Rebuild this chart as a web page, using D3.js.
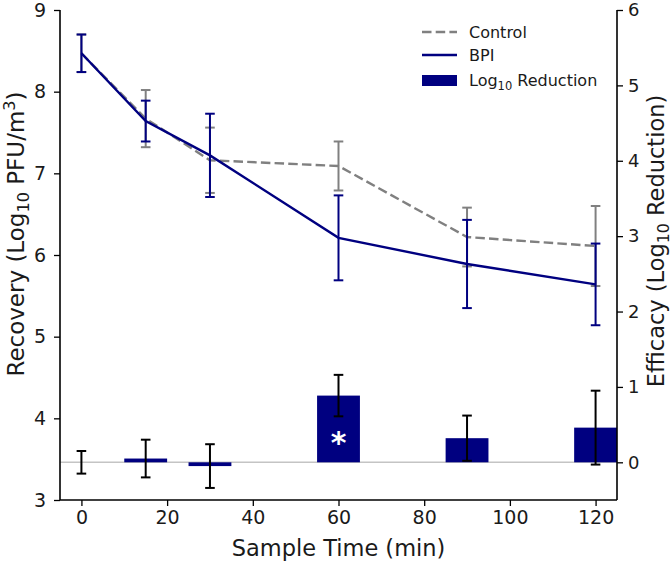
<!DOCTYPE html>
<html><head><meta charset="utf-8">
<script src="https://cdnjs.cloudflare.com/ajax/libs/d3/7.8.5/d3.min.js"></script>
<style>body{margin:0;background:#fff}svg{display:block;font-family:"DejaVu Sans",sans-serif}</style>
</head><body>
<script>
const times = [0, 15, 30, 60, 90, 120];
const controlMean = [8.47, 7.67, 7.16, 7.09, 6.22, 6.11];
const controlErr = [0.23, 0.35, 0.40, 0.30, 0.36, 0.49];
const bpiMean = [8.47, 7.64, 7.22, 6.21, 5.89, 5.64];
const bpiErr = [0.23, 0.25, 0.51, 0.52, 0.54, 0.50];
const reduction = [0.0, 0.05, -0.05, 0.885, 0.32, 0.46];
const reductionErr = [0.15, 0.25, 0.29, 0.275, 0.30, 0.49];
const significant = [false, false, false, true, false, false];
const xTicks = [0, 20, 40, 60, 80, 100, 120];
const yLeftTicks = [3, 4, 5, 6, 7, 8, 9];
const yRightTicks = [0, 1, 2, 3, 4, 5, 6];
const barWidth = 10;

const W = 672, H = 563;
const L = 60, R = 617, T = 10, B = 500;
const navy = "#000080", gray = "#808080";

const svg = d3.select("body").append("svg").attr("width", W).attr("height", H);
const x = d3.scaleLinear().domain([-5, 125]).range([L, R]);
const yL = d3.scaleLinear().domain([3, 9]).range([B, T]);
const yR = d3.scaleLinear().domain([-0.5, 6]).range([B, T]);

// zero line for reduction
svg.append("line").attr("x1", L).attr("x2", R).attr("y1", yR(0)).attr("y2", yR(0))
  .attr("stroke", "#c4c4c4").attr("stroke-width", 1.5);

// bars
const bars = times.map((t, i) => ({t, v: reduction[i], e: reductionErr[i], s: significant[i]}));
svg.selectAll("rect.bar").data(bars).enter().append("rect").attr("class", "bar")
  .attr("x", d => x(d.t - barWidth / 2)).attr("width", d => x(d.t + barWidth / 2) - x(d.t - barWidth / 2))
  .attr("y", d => Math.min(yR(d.v), yR(0))).attr("height", d => Math.abs(yR(d.v) - yR(0)))
  .attr("fill", navy);

function errorBars(data, yScale, color, cap, sw) {
  const g = svg.append("g").attr("stroke", color).attr("stroke-width", sw).attr("fill", "none");
  data.forEach(d => {
    const cx = x(d.t), y1 = yScale(d.v + d.e), y2 = yScale(d.v - d.e);
    g.append("line").attr("x1", cx).attr("x2", cx).attr("y1", y1).attr("y2", y2);
    g.append("line").attr("x1", cx - cap).attr("x2", cx + cap).attr("y1", y1).attr("y2", y1);
    g.append("line").attr("x1", cx - cap).attr("x2", cx + cap).attr("y1", y2).attr("y2", y2);
  });
}
errorBars(bars, yR, "#000", 4.8, 2);

// asterisk
bars.filter(d => d.s).forEach(d => {
  svg.append("text").attr("x", x(d.t)).attr("y", yR(d.v / 2) + 24)
    .attr("text-anchor", "middle").attr("fill", "#fff").attr("font-size", 30).attr("font-weight", "bold").text("*");
});

// lines
const ctrl = times.map((t, i) => ({t, v: controlMean[i], e: controlErr[i]}));
const bpi = times.map((t, i) => ({t, v: bpiMean[i], e: bpiErr[i]}));
const line = d3.line().x(d => x(d.t)).y(d => yL(d.v));
errorBars(ctrl, yL, gray, 4.8, 2);
svg.append("path").datum(ctrl).attr("d", line).attr("fill", "none").attr("stroke", gray)
  .attr("stroke-width", 2.4).attr("stroke-dasharray", "9.5,4.2");
errorBars(bpi, yL, navy, 4.8, 2);
svg.append("path").datum(bpi).attr("d", line).attr("fill", "none").attr("stroke", navy)
  .attr("stroke-width", 2.4);

// axes
const fs = 19;
const gx = svg.append("g").attr("transform", `translate(0,${B})`)
  .call(d3.axisBottom(x).tickValues(xTicks).tickSize(6).tickPadding(5).tickFormat(d3.format("d")));
const gl = svg.append("g").attr("transform", `translate(${L},0)`)
  .call(d3.axisLeft(yL).tickValues(yLeftTicks).tickSize(6).tickPadding(8).tickFormat(d3.format("d")));
const gr = svg.append("g").attr("transform", `translate(${R},0)`)
  .call(d3.axisRight(yR).tickValues(yRightTicks).tickSize(6).tickPadding(5).tickFormat(d3.format("d")));
[gx, gl, gr].forEach(g => {
  g.select(".domain").remove();
  g.selectAll("line").attr("stroke", "#000").attr("stroke-width", 1.3);
  g.selectAll("text").attr("font-size", fs).attr("font-family", "DejaVu Sans").attr("fill", "#1a1a1a");
});
gr.selectAll("text").attr("font-size", 18);
// spines
svg.append("line").attr("x1", L).attr("x2", L).attr("y1", T).attr("y2", B).attr("stroke", "#000").attr("stroke-width", 1.6);
svg.append("line").attr("x1", R).attr("x2", R).attr("y1", T).attr("y2", B).attr("stroke", "#000").attr("stroke-width", 1.6);
svg.append("line").attr("x1", L).attr("x2", R).attr("y1", B).attr("y2", B).attr("stroke", "#000").attr("stroke-width", 1.6);

// axis labels
const lfs = 22.5;
svg.append("text").attr("x", (L + R) / 2).attr("y", 556).attr("text-anchor", "middle")
  .attr("font-size", lfs).attr("fill", "#1a1a1a").text("Sample Time (min)");

const yl = svg.append("text").attr("transform", `translate(24,${234}) rotate(-90)`).attr("text-anchor", "middle")
  .attr("font-size", 23).attr("fill", "#1a1a1a");
yl.append("tspan").text("Recovery (Log");
yl.append("tspan").attr("font-size", 23 * 0.7).attr("dy", 5).text("10");
yl.append("tspan").attr("dy", -5).text(" PFU/m");
yl.append("tspan").attr("font-size", 23 * 0.7).attr("dy", -9).text("3");
yl.append("tspan").attr("dy", 9).text(")");

const yr = svg.append("text").attr("transform", `translate(664,${241}) rotate(-90)`).attr("text-anchor", "middle")
  .attr("font-size", lfs).attr("fill", "#1a1a1a");
yr.append("tspan").text("Efficacy (Log");
yr.append("tspan").attr("font-size", lfs * 0.7).attr("dy", 5).text("10");
yr.append("tspan").attr("dy", -5).text(" Reduction)");

// legend
const lg = svg.append("g");
const hx1 = 422, hx2 = 457, tx = 469;
lg.append("line").attr("x1", hx1).attr("x2", hx2).attr("y1", 32).attr("y2", 32).attr("stroke", gray)
  .attr("stroke-width", 2.4).attr("stroke-dasharray", "9.5,4.2");
lg.append("text").attr("x", tx).attr("y", 38).attr("font-size", 16).attr("fill", "#1a1a1a").text("Control");
lg.append("line").attr("x1", hx1).attr("x2", hx2).attr("y1", 55).attr("y2", 55).attr("stroke", navy).attr("stroke-width", 2.4);
lg.append("text").attr("x", tx).attr("y", 61).attr("font-size", 16).attr("fill", "#1a1a1a").text("BPI");
lg.append("rect").attr("x", hx1).attr("y", 75).attr("width", hx2 - hx1).attr("height", 11).attr("fill", navy);
const lt = lg.append("text").attr("x", tx).attr("y", 86).attr("font-size", 16).attr("fill", "#1a1a1a");
lt.append("tspan").text("Log");
lt.append("tspan").attr("font-size", 11.5).attr("dy", 4).text("10");
lt.append("tspan").attr("dy", -4).text(" Reduction");
</script>
</body></html>
